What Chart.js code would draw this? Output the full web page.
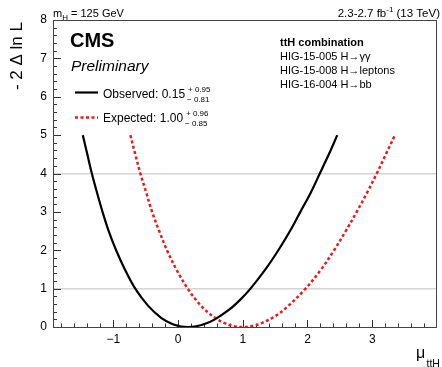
<!DOCTYPE html>
<html>
<head>
<meta charset="utf-8">
<script src="https://cdn.jsdelivr.net/npm/chart.js@4.4.1/dist/chart.umd.min.js"></script>
<style>
html,body{margin:0;padding:0;background:#fff;}
#wrap{position:relative;width:442px;height:367px;}
</style>
</head>
<body>
<div id="wrap"><canvas id="c" width="442" height="367"></canvas></div>
<script>
// ---- data ----
const obsX = [-1.47,-1.40,-1.33,-1.25,-1.165,-1.07,-0.955,-0.82,-0.66,-0.46,-0.26,-0.08,0.05,0.15,0.28,0.42,0.57,0.79,0.955,1.12,1.35,1.55,1.73,1.89,2.05,2.19,2.33,2.46];
const obsY = [5.0,4.5,4.0,3.5,3.0,2.5,2.0,1.5,1.0,0.55,0.24,0.07,0.012,0.0,0.02,0.085,0.20,0.45,0.70,1.0,1.5,2.0,2.5,3.0,3.5,4.0,4.5,5.0];
const expX = [-0.735,-0.66,-0.58,-0.49,-0.40,-0.29,-0.17,-0.025,0.15,0.31,0.45,0.58,0.72,0.855,1.00,1.145,1.29,1.49,1.69,1.97,2.21,2.41,2.59,2.76,2.92,3.07,3.21,3.35];
const expY = [5.0,4.5,4.0,3.5,3.0,2.5,2.0,1.5,1.0,0.64,0.40,0.23,0.10,0.025,0.0,0.025,0.10,0.27,0.53,1.0,1.5,2.0,2.5,3.0,3.5,4.0,4.5,5.0];
const xLabels = [-1,0,1,2,3];
const yLabels = [0,1,2,3,4,5,6,7,8];
const gridValues = [1,4];
const legendObs = {label:'Observed: 0.15', up:'+ 0.95', down:'\u2212 0.81'};
const legendExp = {label:'Expected: 1.00', up:'+ 0.96', down:'\u2212 0.85'};
const infoTitle = 'ttH combination';
const infoLines = ['HIG-15-005 H\u2192\u03b3\u03b3','HIG-15-008 H\u2192leptons','HIG-16-004 H\u2192bb'];

const pts = (xs, ys) => xs.map((x,i)=>({x:x, y:ys[i]}));
const FONT = "'Liberation Sans', Arial, Helvetica, sans-serif";
const RED = 'rgb(235,25,25)';

const decor = {
  id:'decor',
  beforeDatasetsDraw(chart){
    const ctx = chart.ctx, a = chart.chartArea, xs = chart.scales.x, ys = chart.scales.y;
    ctx.save();
    ctx.strokeStyle = '#333'; ctx.lineWidth = 1;
    for (let i = 0; i <= 40; i++){
      const v = i*0.2, p = Math.round(ys.getPixelForValue(v))+0.5;
      const len = (i%5===0) ? 8 : 4;
      ctx.beginPath(); ctx.moveTo(a.left, p); ctx.lineTo(a.left+len, p); ctx.stroke();
    }
    for (let i = -9; i <= 20; i++){
      const v = i*0.2, p = Math.round(xs.getPixelForValue(v))+0.5;
      if (p < a.left || p > a.right) continue;
      const len = (i%5===0) ? 7 : 3.5;
      ctx.beginPath(); ctx.moveTo(p, a.bottom); ctx.lineTo(p, a.bottom-len); ctx.stroke();
    }
    ctx.restore();
  },
  afterDraw(chart){
    const ctx = chart.ctx, a = chart.chartArea;
    ctx.save();
    ctx.strokeStyle = '#444'; ctx.lineWidth = 1;
    ctx.strokeRect(a.left+0.5, a.top+0.5, a.right-a.left-1, a.bottom-a.top);
    ctx.fillStyle = '#000';
    ctx.textBaseline = 'alphabetic';
    ctx.textAlign = 'left';
    ctx.font = '11px ' + FONT;
    ctx.fillText('m', 53, 16.7);
    let w = ctx.measureText('m').width;
    ctx.font = '8px ' + FONT;
    ctx.fillText('H', 53+w, 19.5);
    let w2 = ctx.measureText('H').width;
    ctx.font = '11px ' + FONT;
    ctx.fillText(' = 125 GeV', 53+w+w2, 16.7);
    const t1 = '2.3-2.7 fb', t2 = ' (13 TeV)';
    ctx.font = '8px ' + FONT; const sw = ctx.measureText('-1').width;
    ctx.font = '11.5px ' + FONT;
    const tw = ctx.measureText(t1).width + sw + ctx.measureText(t2).width;
    let x0 = 440 - tw;
    ctx.fillText(t1, x0, 16.7); x0 += ctx.measureText(t1).width;
    ctx.font = '8px ' + FONT; ctx.fillText('-1', x0, 12); x0 += sw;
    ctx.font = '11.5px ' + FONT; ctx.fillText(t2, x0, 16.7);
    ctx.font = 'bold 20px ' + FONT;
    ctx.fillText('CMS', 70, 46.7);
    ctx.font = 'italic 15.5px ' + FONT;
    ctx.fillText('Preliminary', 71, 70.5);
    ctx.strokeStyle = '#000'; ctx.lineWidth = 2.2;
    ctx.beginPath(); ctx.moveTo(75, 92.5); ctx.lineTo(98, 92.5); ctx.stroke();
    ctx.strokeStyle = RED; ctx.lineWidth = 2.5; ctx.setLineDash([3,2.5]);
    ctx.beginPath(); ctx.moveTo(75, 117.5); ctx.lineTo(98, 117.5); ctx.stroke();
    ctx.setLineDash([]);
    const drawEntry = (e, base) => {
      ctx.font = '12px ' + FONT; ctx.fillStyle = '#000';
      ctx.fillText(e.label, 103, base);
      const lw = ctx.measureText(e.label).width;
      ctx.font = '8px ' + FONT;
      ctx.fillText(e.up, 103+lw+3, base-6.3);
      ctx.fillText(e.down, 103+lw+2, base+3.5);
    };
    drawEntry(legendObs, 98.3);
    drawEntry(legendExp, 122);
    ctx.font = 'bold 11px ' + FONT;
    ctx.fillText(infoTitle, 280, 45.5);
    ctx.font = '11px ' + FONT;
    infoLines.forEach((s,i)=>ctx.fillText(s, 280, 59.5 + i*14));
    ctx.save();
    ctx.translate(22, 22); ctx.rotate(-Math.PI/2);
    ctx.textAlign = 'right';
    ctx.font = '17px ' + FONT;
    ctx.fillText('- 2 \u0394 ln L', 0, 0);
    ctx.restore();
    ctx.textAlign = 'left';
    ctx.font = '16px ' + FONT;
    ctx.fillText('\u03bc', 416, 358);
    ctx.font = '10.5px ' + FONT;
    ctx.fillText('ttH', 426.5, 366.5);
    ctx.restore();
  }
};

new Chart(document.getElementById('c'), {
  type: 'scatter',
  data: {
    datasets: [
      {label:'Observed', data: pts(obsX, obsY), showLine:true, borderColor:'#000', borderWidth:2.2,
       pointRadius:0, tension:0.35, fill:false},
      {label:'Expected', data: pts(expX, expY), showLine:true, borderColor:RED, borderWidth:2.5,
       borderDash:[3,2.5], pointRadius:0, tension:0.35, fill:false}
    ]
  },
  options: {
    responsive:false, animation:false, devicePixelRatio:1,
    layout:{padding:{top:20, right:2, left:0, bottom:0}},
    plugins:{legend:{display:false}, tooltip:{enabled:false}},
    scales:{
      x:{type:'linear', min:-1.93, max:4.0,
         afterFit(s){ s.height = 40; },
         border:{display:false},
         grid:{display:false, drawTicks:false},
         ticks:{stepSize:1, includeBounds:false, padding:5, color:'#000', font:{family:FONT, size:12},
                autoSkip:false, maxRotation:0,
                callback(v){ return xLabels.includes(v) ? (v<0 ? '\u2212'+Math.abs(v) : String(v)) : ''; }}},
      y:{type:'linear', min:0, max:8,
         afterFit(s){ s.width = 53; },
         border:{display:false},
         grid:{drawTicks:false, lineWidth:1.5,
               color(c){ return gridValues.includes(c.tick && c.tick.value) ? '#d4d4d4' : 'rgba(0,0,0,0)'; }},
         ticks:{stepSize:1, padding:6, color:'#000', font:{family:FONT, size:12},
                callback(v){ return yLabels.includes(v) ? String(v) : ''; }}}
    }
  },
  plugins:[decor]
});
</script>
</body>
</html>
